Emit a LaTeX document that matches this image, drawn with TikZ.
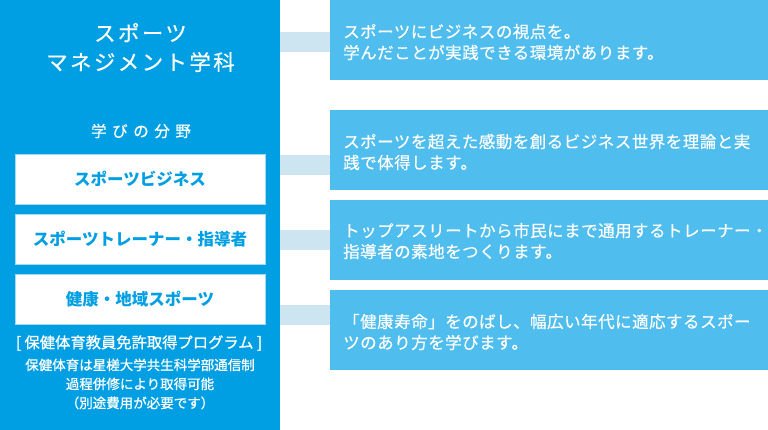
\documentclass[tikz,border=0pt]{standalone}
\usepackage{fontspec}
\newfontfamily\jp{Noto Sans CJK JP}
\newfontfamily\jpmed[FakeBold=0.8]{Noto Sans CJK JP}
\newfontfamily\jptitle[LetterSpace=11,FakeBold=0.4]{Noto Sans CJK JP}
\newfontfamily\jpwide[LetterSpace=36,FakeBold=0.5]{Noto Sans CJK JP}
\newfontfamily\jpbox[LetterSpace=3,FakeBold=0.4]{Noto Sans CJK JP}
\definecolor{panelblue}{HTML}{009FE3}
\definecolor{boxblue}{HTML}{4FBDEE}
\definecolor{connblue}{HTML}{CCE5F1}
\definecolor{edgeblue}{HTML}{A6DAF3}
\tikzset{
  panel/.style={fill=panelblue, draw=none, inner sep=0pt, minimum width=280pt, minimum height=430pt},
  rbox/.style={fill=boxblue, draw=none, inner sep=0pt, minimum width=438pt, minimum height=80pt},
  wbox/.style={fill=white, draw=edgeblue, line width=0.8pt, inner sep=0pt, minimum width=250pt, minimum height=50pt,
    text=panelblue, font=\jp\bfseries\fontsize{16.5}{20}\selectfont},
  rtext/.style={anchor=west, align=left, text=white, inner sep=0pt, font=\jpbox\fontsize{16.5}{21}\selectfont},
  captext/.style={text=white, inner sep=0pt, font=\jpmed\fontsize{13.5}{19}\selectfont},
  conn/.style={draw=connblue, line width=20pt}
}
\begin{document}
\begin{tikzpicture}[x=1pt,y=-1pt]
\useasboundingbox (0,0) rectangle (768,430);
% left panel
\node[panel] (panel) at (140,215) {};
% right boxes
\node[rbox] (b1) at (549,40) {};
\node[rbox] (b2) at (549,150) {};
\node[rbox] (b3) at (549,240) {};
\node[rbox] (b4) at (549,330) {};
% connectors
\coordinate (k1) at (panel.east |- 0,42);
\coordinate (k2) at (panel.east |- 0,165);
\coordinate (k3) at (panel.east |- 0,240);
\coordinate (k4) at (panel.east |- 0,315);
\draw[conn] (k1) -- (k1 -| b1.west);
\draw[conn] (k2) -- (k2 -| b2.west);
\draw[conn] (k3) -- (k3 -| b3.west);
\draw[conn] (k4) -- (k4 -| b4.west);
% title
\node[text=white, align=center, inner sep=0pt, font=\jptitle\fontsize{21.5}{29}\selectfont] (title) at (140.5,47.5) {スポーツ\\マネジメント学科};
\node[text=white, inner sep=0pt, font=\jpwide\fontsize{15.5}{18}\selectfont] (fields) at (141,131) {学びの分野};
% white boxes
\node[wbox] (w1) at (140,179) {スポーツビジネス};
\node[wbox] (w2) at (140,239) {スポーツトレーナー・指導者};
\node[wbox] (w3) at (140,299) {健康・地域スポーツ};
% caption
\node[text=white, inner sep=0pt, font=\jpmed\fontsize{15.3}{19}\selectfont] (prog) at (139,343) {[ 保健体育教員免許取得プログラム ]};
\node[captext, align=center] (note) at (140,384) {保健体育は星槎大学共生科学部通信制\\過程併修により取得可能\\（別途費用が必要です）};
% right texts
\node[rtext] (t1) at (343,42) {スポーツにビジネスの視点を。\\学んだことが実践できる環境があります。};
\node[rtext] (t2) at (343,152) {スポーツを超えた感動を創るビジネス世界を理論と実\\践で体得します。};
\node[rtext] (t3) at (343,241) {トップアスリートから市民にまで通用するトレーナー・\\指導者の素地をつくります。};
\node[rtext] (t4) at (343,332) {「健康寿命」をのばし、幅広い年代に適応するスポー\\ツのあり方を学びます。};
\end{tikzpicture}
\end{document}
